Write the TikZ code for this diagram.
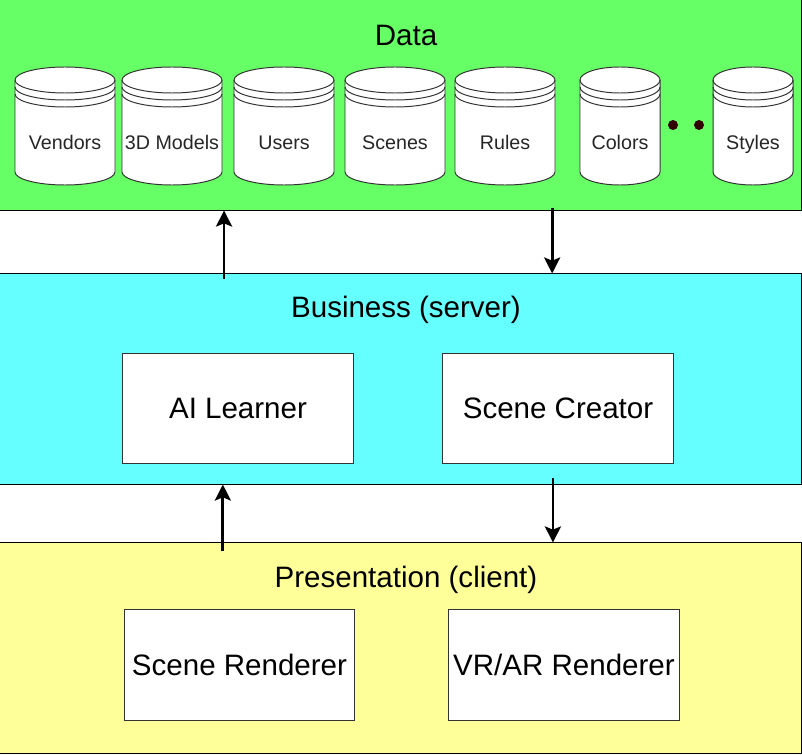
\documentclass[tikz,border=0pt]{standalone}
\usepackage{fontspec}
\setmainfont{Liberation Sans}
\usetikzlibrary{arrows.meta, positioning}
\definecolor{dataGreen}{HTML}{66FF66}
\definecolor{bizCyan}{HTML}{66FFFF}
\definecolor{presYellow}{HTML}{FFFF99}
\definecolor{dotBrown}{HTML}{330000}
\definecolor{boxGray}{HTML}{333333}
\tikzset{
  layerbox/.style={rectangle, draw=black, line width=0.7pt,
    minimum width=20.025cm, minimum height=5.25cm, inner sep=0pt},
  layertitle/.style={font=\fontsize{21}{25}\selectfont, inner sep=0pt},
  compbox/.style={rectangle, draw=boxGray, line width=0.7pt, fill=white,
    minimum width=5.75cm, minimum height=2.75cm,
    font=\fontsize{21}{25}\selectfont},
  dblabel/.style={font=\fontsize{14}{17}\selectfont, text=black!85, inner sep=0pt,
    text height=1.6ex, text depth=0.4ex},
  dbline/.style={draw=boxGray, line width=0.7pt},
  ellipsisdot/.style={circle, fill=dotBrown, minimum size=0.25cm, inner sep=0pt},
  flowarrow/.style={-{Stealth[length=4mm, width=4mm, inset=0.8mm]}, line width=2pt}
}
% data store: name, centre x, half width (px), label
\newcommand{\dbstore}[4]{%
  \path[dbline, fill=white] (#2-#3,80) -- (#2-#3,172)
    arc[start angle=180, end angle=360, x radius={0.025cm*#3}, y radius=0.325cm] -- (#2+#3,80)
    arc[start angle=0, end angle=180, x radius={0.025cm*#3}, y radius=0.325cm] -- cycle;
  \foreach \ringy in {80,87,94}
    \draw[dbline] (#2-#3,\ringy) arc[start angle=180, end angle=360, x radius={0.025cm*#3}, y radius=0.325cm];
  \node[dblabel] (#1) at (#2,145) {#4};
}
\begin{document}
\begin{tikzpicture}[x=0.025cm, y=-0.025cm]
  \useasboundingbox (0,0) rectangle (802,755);
  % layers
  \node[layerbox, fill=dataGreen] (data) at (400.5,105) {};
  \node[layerbox, fill=bizCyan] (biz) at (400.5,379) {};
  \node[layerbox, fill=presYellow] (pres) at (400.5,648) {};
  \node[layertitle] (dataT) at (406,35) {Data};
  \node[layertitle] (bizT) at (406,310) {Business (server)};
  \node[layertitle] (presT) at (406,580) {Presentation (client)};

  % data stores
  \dbstore{vendors}{65}{50}{Vendors}
  \dbstore{models}{172}{50}{3D Models}
  \dbstore{users}{284}{50}{Users}
  \dbstore{scenes}{395}{50}{Scenes}
  \dbstore{rules}{505}{50}{Rules}
  \dbstore{colors}{620}{40}{Colors}
  \dbstore{styles}{753}{40}{Styles}
  \node[ellipsisdot] (dotA) at (673,125) {};
  \node[ellipsisdot] (dotB) at (699,125) {};

  % components
  \node[compbox] (learner) at (238,408.5) {AI Learner};
  \node[compbox] (creator) at (558,408.5) {Scene Creator};
  \node[compbox] (renderer) at (239.5,665) {Scene Renderer};
  \node[compbox] (vrar) at (564,665) {VR/AR Renderer};

  % flows between layers
  \draw[flowarrow] ([xshift=-4.41cm, yshift=-0.15cm]biz.north) -- ([xshift=-4.41cm]data.south);
  \draw[flowarrow] ([xshift=3.79cm, yshift=0.075cm]data.south) -- ([xshift=3.79cm]biz.north);
  \draw[flowarrow] ([xshift=-4.44cm, yshift=-0.225cm]pres.north) -- ([xshift=-4.44cm]biz.south);
  \draw[flowarrow] ([xshift=3.81cm, yshift=0.175cm]biz.south) -- ([xshift=3.81cm]pres.north);
\end{tikzpicture}
\end{document}
